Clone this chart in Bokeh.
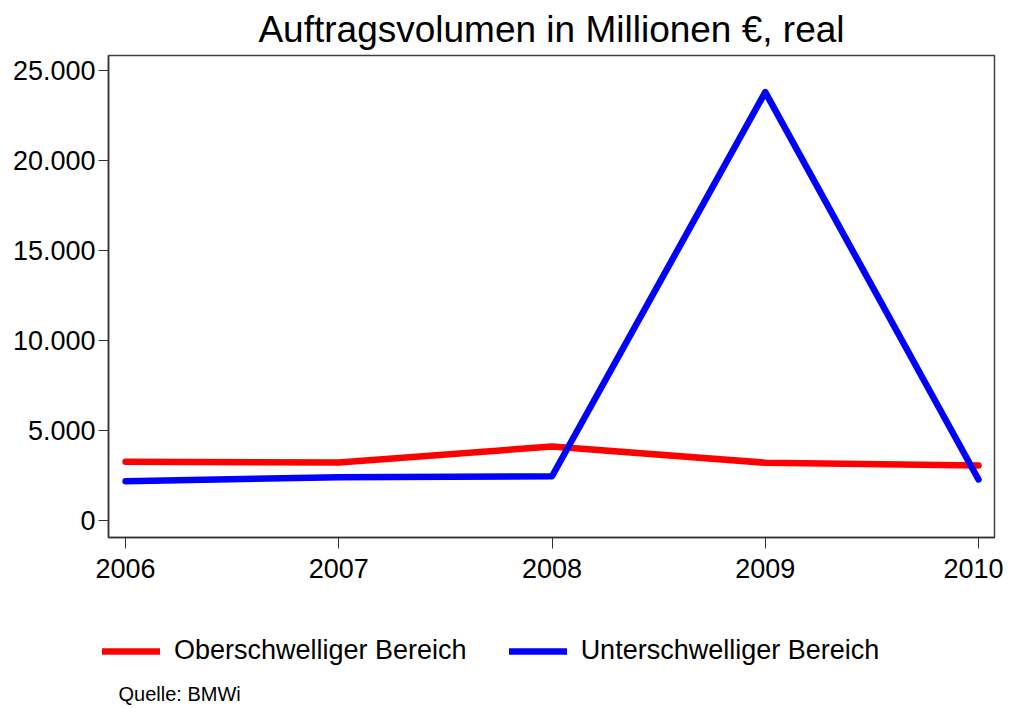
from bokeh.plotting import figure
from bokeh.models import Range1d, FixedTicker, Legend, LegendItem, Label
from bokeh.layouts import column
from bokeh.embed import file_html
from bokeh.resources import INLINE

years = [2006, 2007, 2008, 2009, 2010]
ober = [3260, 3220, 4110, 3210, 3060]
unter = [2180, 2410, 2460, 23800, 2280]
ytick_values = [0, 5000, 10000, 15000, 20000, 25000]
ytick_labels = ["0", "5.000", "10.000", "15.000", "20.000", "25.000"]
series_names = ["Oberschwelliger Bereich", "Unterschwelliger Bereich"]
series_colors = ["#ff0000", "#0000ff"]
series_values = [ober, unter]
title_text = "Auftragsvolumen in Millionen €, real"
source_text = "Quelle: BMWi"

FONT = "Liberation Sans"
LW = 6.5

p = figure(frame_width=886, frame_height=482, output_backend="svg", toolbar_location=None,
           x_range=Range1d(2005.92, 2010.075), y_range=Range1d(-944, 25833),
           min_border_left=108, min_border_right=9, min_border_top=55, min_border_bottom=58)

p.title.text = title_text
p.title.align = "center"
p.title.text_font = FONT
p.title.text_font_size = "37px"
p.title.text_font_style = "normal"
p.title.text_color = "black"
p.title.standoff = 12

p.xgrid.visible = False
p.ygrid.visible = False
p.outline_line_color = "#404040"
p.outline_line_width = 1.5
p.border_fill_color = "white"

xa = p.xaxis[0]
xa.ticker = FixedTicker(ticks=years)
xa.minor_tick_line_color = None
xa.major_tick_in = 0
xa.major_tick_out = 11
xa.major_tick_line_color = "#333333"
xa.axis_line_color = "#333333"
xa.axis_line_width = 1.5
xa.major_label_text_font = FONT
xa.major_label_text_font_size = "27px"
xa.major_label_text_color = "black"
xa.major_label_standoff = 10
xa.major_label_overrides = {y: str(y) for y in years}

ya = p.yaxis[0]
ya.ticker = FixedTicker(ticks=ytick_values)
ya.major_label_overrides = {v: l for v, l in zip(ytick_values, ytick_labels)}
ya.minor_tick_line_color = None
ya.major_tick_in = 0
ya.major_tick_out = 10
ya.major_tick_line_color = "#333333"
ya.axis_line_color = "#333333"
ya.axis_line_width = 1.5
ya.major_label_text_font = FONT
ya.major_label_text_font_size = "27px"
ya.major_label_text_color = "black"
ya.major_label_standoff = 3

for vals, col in zip(series_values, series_colors):
    p.line(years, vals, line_color=col, line_width=LW, line_join="round", line_cap="round")

# legend / source strip below the chart (pixel-scaled ranges; series lie outside the view)
p2 = figure(frame_width=1003, frame_height=110, output_backend="svg", toolbar_location=None,
            x_axis_type=None, y_axis_type=None, x_range=Range1d(0, 1003), y_range=Range1d(0, 110),
            min_border=0)
p2.outline_line_color = None
p2.xgrid.visible = False
p2.ygrid.visible = False
p2.border_fill_color = "white"

items = []
for name, vals, col in zip(series_names, series_values, series_colors):
    r = p2.line(years, vals, line_color=col, line_width=LW, line_cap="round")
    items.append(LegendItem(label=name, renderers=[r]))

legend = Legend(items=items, orientation="horizontal", location=(102, 39),
                glyph_width=58, glyph_height=28, label_standoff=14, spacing=42,
                padding=0, margin=0, border_line_color=None, background_fill_alpha=0,
                label_text_font=FONT, label_text_font_size="27px", label_text_color="black")
p2.add_layout(legend, "center")

src = Label(x=10, y=12, text=source_text,
            text_font=FONT, text_font_size="20px", text_baseline="middle", text_color="black")
p2.add_layout(src)

open("out.html", "w").write(file_html(column(p, p2), INLINE))
